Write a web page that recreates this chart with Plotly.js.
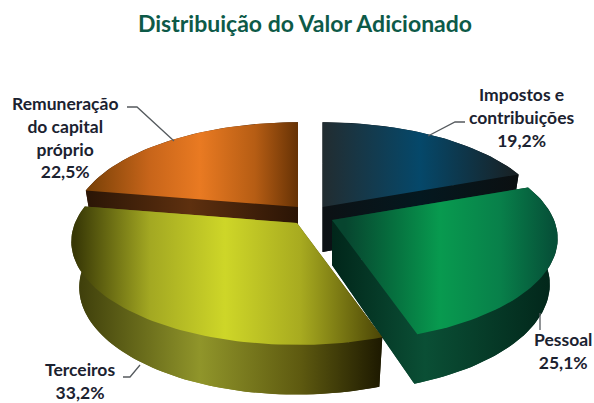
<!DOCTYPE html>
<html>
<head>
<meta charset="utf-8">
<script src="https://cdn.plot.ly/plotly-3.0.0.min.js"></script>
<style>html,body{margin:0;padding:0;background:#fff}#c{width:594px;height:403px}</style>
</head>
<body>
<div id="c"></div>
<script>
const categories = ["Impostos e contribuições", "Pessoal", "Terceiros", "Remuneração do capital próprio"];
const labelLines = ["Impostos e<br>contribuições<br>19,2%", "Pessoal<br>25,1%", "Terceiros<br>33,2%", "Remuneração<br>do capital<br>próprio<br>22,5%"];
const shares = [19.2, 25.1, 33.2, 22.5];

// presentation of the exploded, tilted pie
const centres = [[322.5, 207], [332, 220], [297, 223], [298, 207]];
const labelPos = [[522, 117], [563, 351], [80, 381], [65, 137]];
const leaders = [
  [[428, 136], [455, 122], [465, 122]],
  [[540, 313], [540, 330]],
  [[140, 365], [130, 377], [123, 377]],
  [[174, 141], [137, 107], [127, 107]]
];
const topStops = [
  [[322, "#222c30"], [420, "#05486a"], [513, "#182226"]],
  [[345, "#07452f"], [395, "#06713f"], [440, "#089a4f"], [500, "#08804a"], [553, "#065038"]],
  [[75, "#383806"], [150, "#a3a822"], [225, "#ced628"], [300, "#a8ab20"], [383, "#4a4406"]],
  [[90, "#7c4208"], [150, "#c8651a"], [200, "#e97a22"], [255, "#b65d14"], [298, "#663205"]]
];
const wallStops = [
  [[322, "#0c1114"], [420, "#04181f"], [513, "#0b1012"]],
  [[332, "#01261a"], [425, "#0a4f35"], [553, "#02261a"]],
  [[75, "#3c3c0a"], [200, "#90952a"], [300, "#5e5a10"], [383, "#1c1800"]],
  [[90, "#2c1606"], [190, "#5e300f"], [298, "#2a1405"]]
];
const drawOrder = [0, 3, 1, 2];

const R = 222, H = 100, P = 0.18, D = 45, LOW_X = 0.965;
function pt(c, deg, low) {
  const s = Math.sin(deg * Math.PI / 360);
  const t = (deg + 2 * s * s) * Math.PI / 180, u = Math.sin(t), v = Math.cos(t), w = 1 + P * v;
  return [c[0] + R * (low ? LOW_X : 1) * u / w, c[1] - H * v / w + (low ? D / Math.sqrt(w) : 0)];
}
function arc(c, a, b, low) {
  const out = [], n = Math.ceil(Math.abs(b - a) / 1.5);
  for (let i = 0; i <= n; i++) out.push(pt(c, a + (b - a) * i / n, low));
  return out;
}
function gradient(stops) {
  const a = stops[0][0], z = stops[stops.length - 1][0];
  return { type: "horizontal", start: a, stop: z,
    colorscale: stops.map(s => [(s[0] - a) / (z - a), s[1]]) };
}
function poly(points, stops, name) {
  const closed = points.concat([points[0]]);
  return { type: "scatter", mode: "lines", x: closed.map(p => p[0]), y: closed.map(p => p[1]),
    line: { width: 0 }, fill: "toself", fillgradient: gradient(stops), name: name,
    hoverinfo: "name", showlegend: false };
}

const starts = [];
shares.reduce((acc, s, i) => { starts[i] = acc; return acc + s; }, 0);
const total = shares.reduce((a, b) => a + b, 0);

const traces = [];
drawOrder.forEach(i => {
  const a = starts[i] / total * 360, b = (starts[i] + shares[i]) / total * 360, c = centres[i];
  const apexTop = [c[0], c[1]], apexLow = [c[0], c[1] + D];
  traces.push(poly([apexLow].concat(arc(c, a, b, true)), wallStops[i], categories[i]));
  traces.push(poly([apexTop, pt(c, a, false), pt(c, a, true), apexLow], wallStops[i], categories[i]));
  traces.push(poly([apexTop, pt(c, b, false), pt(c, b, true), apexLow], wallStops[i], categories[i]));
  traces.push(poly(arc(c, a, b, false).concat(arc(c, b, a, true)), wallStops[i], categories[i]));
  traces.push(poly([apexTop].concat(arc(c, a, b, false)), topStops[i], categories[i]));
});
leaders.forEach(l => traces.push({ type: "scatter", mode: "lines", x: l.map(p => p[0]), y: l.map(p => p[1]),
  line: { color: "#555a5e", width: 1.3 }, hoverinfo: "skip", showlegend: false }));

const layout = {
  width: 594, height: 403, margin: { l: 0, r: 0, t: 0, b: 0 },
  paper_bgcolor: "#fff", plot_bgcolor: "#fff", showlegend: false,
  title: { text: "Distribuição do Valor Adicionado", x: 305 / 594, xanchor: "center", y: 1 - 24 / 403, yanchor: "middle",
    font: { family: "Lato", size: 23, color: "#0d5a48", weight: 700 } },
  xaxis: { range: [0, 594], visible: false, fixedrange: true },
  yaxis: { range: [403, 0], visible: false, fixedrange: true },
  annotations: labelLines.map((t, i) => ({ text: t, x: labelPos[i][0], y: labelPos[i][1], xref: "x", yref: "y",
    showarrow: false, align: "center", xanchor: "center", yanchor: "middle",
    font: { family: "Lato", size: 17.5, color: "#1b2230", weight: 700 } }))
};
Plotly.newPlot("c", traces, layout, { displayModeBar: false, staticPlot: true });
</script>
</body>
</html>
